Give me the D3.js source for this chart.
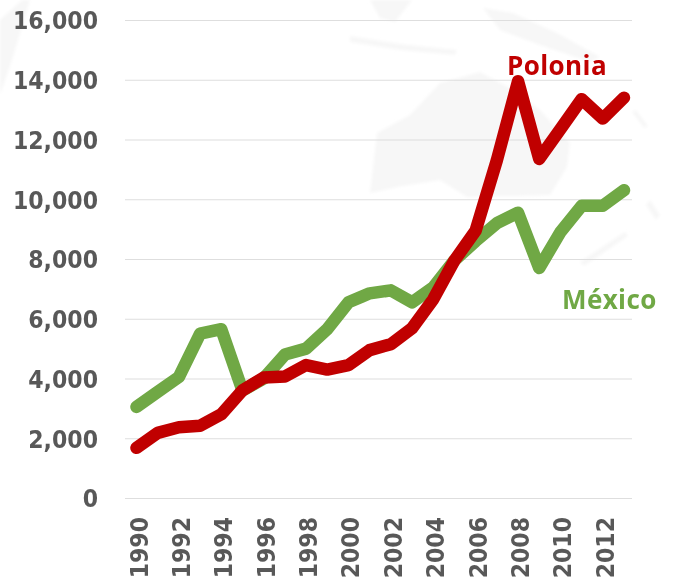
<!DOCTYPE html>
<html><head><meta charset="utf-8">
<script src="https://cdn.jsdelivr.net/npm/d3@7"></script>
<style>html,body{margin:0;padding:0;background:#fff}svg{display:block}</style>
</head><body><svg id="c" width="673" height="582"></svg>
<script>
const years = d3.range(1990, 2014);
const polonia = [1680,2180,2370,2420,2800,3600,4030,4070,4450,4300,4450,4950,5150,5680,6650,7950,8950,11300,13950,11350,12350,13350,12700,13400];
const mexico = [3050,3550,4050,5500,5650,3600,4000,4800,5000,5650,6550,6850,6950,6550,7050,7950,8600,9200,9550,7700,8900,9780,9780,10300];
const yTicks = [0,2000,4000,6000,8000,10000,12000,14000,16000];
const xTicks = years.filter(d => d % 2 === 0);

const svg = d3.select("#c");
const defs = svg.append("defs");
defs.append("filter").attr("id","soft").append("feGaussianBlur").attr("stdDeviation",0.45);
defs.append("filter").attr("id","mapsoft").append("feGaussianBlur").attr("stdDeviation",1.5);
const x = d3.scaleLinear().domain([1990,2013]).range([136.5,624]);
const y = d3.scaleLinear().domain([0,16000]).range([498,20]);

// faint backdrop map
const map = svg.append("g").attr("fill","#f7f7f7").attr("filter","url(#mapsoft)");
[
 "M370,193 L377,133 L410,115 L440,83 L480,72 L513,90 L540,110 L570,143 L567,167 L550,195 L467,197 L440,180 L397,187 Z",
 "M350,36 L400,44 L457,50 L455,55 L400,50 L350,42 Z",
 "M370,0 L412,0 L395,22 L380,18 Z",
 "M483,8 L513,13 L557,33 L600,57 L590,62 L540,45 L500,30 Z",
 "M0,20 L22,0 L30,0 L12,60 L0,95 Z",
 "M632,112 L636,110 L648,126 L644,128 Z",
 "M580,262 L625,232 L628,236 L584,266 Z",
 "M650,200 L660,215 L656,220 L646,205 Z"
].forEach(d => map.append("path").attr("d", d));

const root = svg.append("g").attr("filter","url(#soft)");
const font = "'DejaVu Sans Condensed','DejaVu Sans',sans-serif";

// grid + y axis
const yAxis = root.append("g").attr("transform","translate(125,0)")
  .call(d3.axisLeft(y).tickValues(yTicks).tickFormat(d3.format(",")).tickSize(-507).tickPadding(27));
yAxis.select(".domain").remove();
yAxis.selectAll("line").attr("stroke","#dedede").attr("stroke-width",1.2);
yAxis.selectAll("text").attr("fill","#595959").attr("font-family",font).attr("font-weight",700)
  .attr("font-stretch","condensed").attr("font-size",24.5).attr("dy","0.36em");

// x axis
const xAxis = root.append("g").attr("transform","translate(0,498)")
  .call(d3.axisBottom(x).tickValues(xTicks).tickFormat(d3.format("d")).tickSize(0));
xAxis.select(".domain").remove();
xAxis.selectAll("text").attr("fill","#595959").attr("font-family",font).attr("font-weight",700)
  .attr("font-stretch","condensed").attr("font-size",24.5).attr("text-anchor","end").attr("dy",0).attr("x",0).attr("y",0)
  .attr("transform","translate(10.5,19) rotate(-90)");

// lines
const line = vals => d3.line().x((d,i)=>x(years[i])).y(d=>y(d)).curve(d3.curveLinear)(vals);
[[mexico,"#6fa844"],[polonia,"#c00000"]].forEach(([v,c]) => {
  root.append("path").attr("d",line(v)).attr("fill","none").attr("stroke",c)
    .attr("stroke-width",12.5).attr("stroke-linecap","round").attr("stroke-linejoin","round");
});

// labels
const lab = (t,xp,yp,c) => root.append("text").text(t).attr("x",xp).attr("y",yp).attr("fill",c)
  .attr("font-family","'Open Sans',sans-serif").attr("font-weight",700).attr("font-size",26).attr("letter-spacing",0.4);
lab("Polonia",507,75,"#c00000");
lab("México",562,309,"#6fa844");
</script></body></html>
